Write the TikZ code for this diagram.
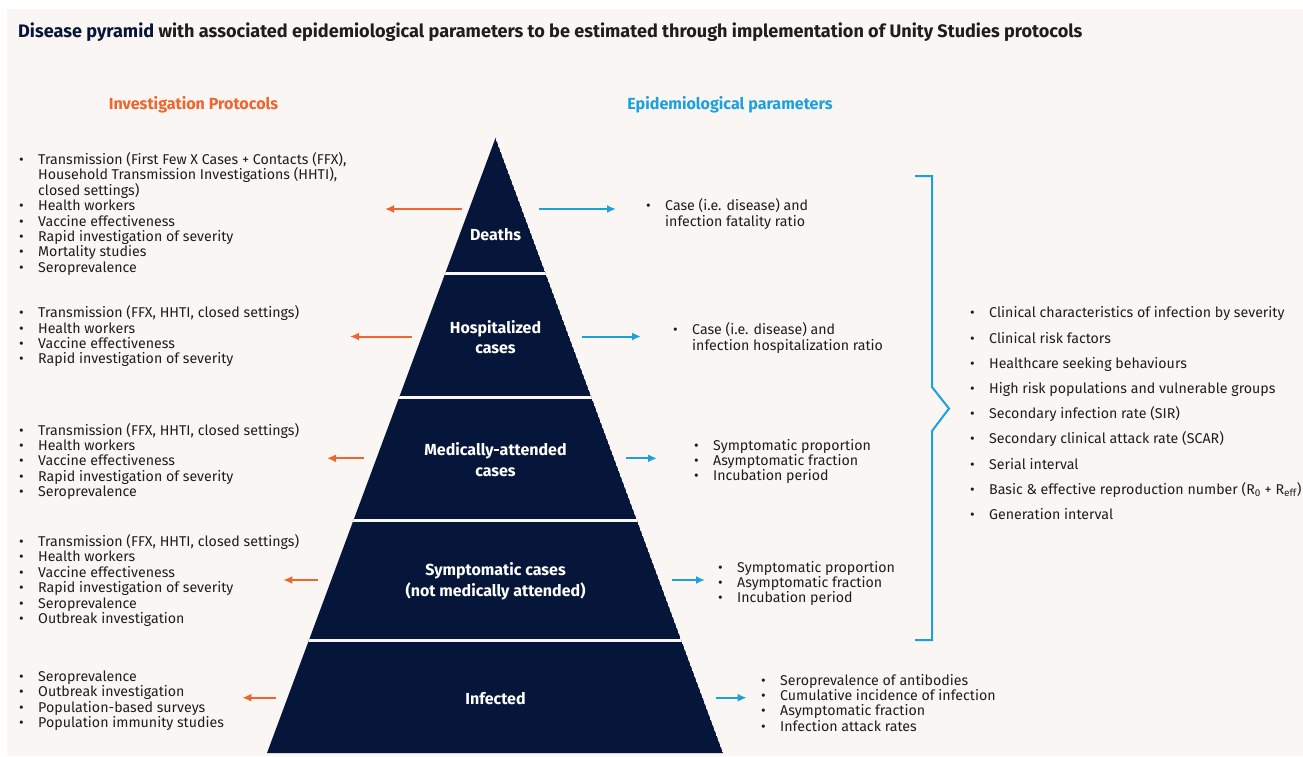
\documentclass[tikz,border=0pt]{standalone}
\usepackage{fontspec}
\setmainfont{Fira Sans}
\usepackage{tikz}
\usetikzlibrary{positioning,arrows.meta,calc}
\definecolor{navy}{RGB}{6,21,58}
\definecolor{ink}{RGB}{30,30,30}
\definecolor{protocol}{RGB}{240,100,45}
\definecolor{param}{RGB}{28,160,222}
\definecolor{paper}{RGB}{250,246,243}
\newcommand{\itm}{\makebox[19pt][l]{\textbullet}}
\newcommand{\cont}{\hspace*{19pt}}

\begin{document}
\begin{tikzpicture}[
    x=1pt, y=-1pt,
    level/.style={
        text=white, align=center,
        font=\fontsize{16}{20.5}\selectfont\bfseries
    },
    list/.style={
        anchor=west, inner sep=0pt, text=ink, align=left,
        font=\fontsize{14.2}{15.4}\selectfont
    },
    biglist/.style={list, font=\fontsize{14.2}{25.2}\selectfont},
    head/.style={font=\fontsize{16.1}{19}\selectfont\bfseries},
    oarr/.style={-{Latex[length=9pt,width=8pt]}, line width=2pt, protocol},
    barr/.style={-{Latex[length=9pt,width=8pt]}, line width=2pt, param},
]

% ── Page ──
\fill[white] (0,0) rectangle (1303,756);
\fill[paper] (7,9) rectangle (1303,756);
\useasboundingbox (0,0) rectangle (1303,756);

\node[anchor=base west, inner sep=0pt, text=ink,
      font=\fontsize{18.1}{21}\selectfont\bfseries] (title) at (18,37.5)
    {\textcolor{navy}{Disease pyramid} with associated epidemiological parameters to be estimated through implementation of Unity Studies protocols};

\node[head, text=protocol] (invhead) at (193.5,105) {Investigation Protocols};
\node[head, text=param]    (epihead) at (730,105)   {Epidemiological parameters};

% ── Pyramid ──
\coordinate (apex)  at (495.5,138);
\coordinate (baseL) at (267,753);
\coordinate (baseR) at (723,753);
\begin{scope}
    \clip (apex) -- (baseL) -- (baseR) -- cycle;
    \fill[navy] (apex) -- (baseL) -- (baseR) -- cycle;
    \foreach \y in {273,397,520,640}
        \draw[paper, line width=3pt] (250,\y) -- (740,\y);
\end{scope}

\node[level] (deaths) at (495.5,235)   {Deaths};
\node[level] (hosp)   at (495.5,337.3) {Hospitalized\\cases};
\node[level] (medic)  at (495.5,459.7) {Medically-attended\\cases};
\node[level] (sympt)  at (495.5,581.3) {Symptomatic cases\\(not medically attended)};
\node[level] (infec)  at (495.5,699)   {Infected};

% ── Arrows out of each level ──
\foreach \lvl/\y/\pa/\pb/\qa/\qb in {
        d/209/462/385/539/616,
        h/336.5/412/350/581.5/641,
        m/458.3/364/327/626/657,
        s/580/317.7/283.3/671.7/705,
        i/697.7/276/242.3/715.7/746.7} {
    \coordinate (\lvl-o1) at (\pa,\y);
    \coordinate (\lvl-o2) at (\pb,\y);
    \coordinate (\lvl-b1) at (\qa,\y);
    \coordinate (\lvl-b2) at (\qb,\y);
    \draw[oarr] (\lvl-o1) -- (\lvl-o2);
    \draw[barr] (\lvl-b1) -- (\lvl-b2);
}

% ── Protocols (left) ──
\node[list] (protD) at (19,214) {%
    \itm Transmission (First Few X Cases + Contacts (FFX),\\
    \cont Household Transmission Investigations (HHTI),\\
    \cont closed settings)\\
    \itm Health workers\\
    \itm Vaccine effectiveness\\
    \itm Rapid investigation of severity\\
    \itm Mortality studies\\
    \itm Seroprevalence};
\node[list] (protH) at (19,336.3) {%
    \itm Transmission (FFX, HHTI, closed settings)\\
    \itm Health workers\\
    \itm Vaccine effectiveness\\
    \itm Rapid investigation of severity};
\node[list] (protM) at (19,461.5) {%
    \itm Transmission (FFX, HHTI, closed settings)\\
    \itm Health workers\\
    \itm Vaccine effectiveness\\
    \itm Rapid investigation of severity\\
    \itm Seroprevalence};
\node[list] (protS) at (19,580.4) {%
    \itm Transmission (FFX, HHTI, closed settings)\\
    \itm Health workers\\
    \itm Vaccine effectiveness\\
    \itm Rapid investigation of severity\\
    \itm Seroprevalence\\
    \itm Outbreak investigation};
\node[list] (protI) at (19,700.8) {%
    \itm Seroprevalence\\
    \itm Outbreak investigation\\
    \itm Population-based surveys\\
    \itm Population immunity studies};

% ── Parameters (right) ──
\node[list] (parD) at (646,214.2) {%
    \itm Case (i.e. disease) and\\
    \cont infection fatality ratio};
\node[list] (parH) at (673,338) {%
    \itm Case (i.e. disease) and\\
    \cont infection hospitalization ratio};
\node[list] (parM) at (694,461.5) {%
    \itm Symptomatic proportion\\
    \itm Asymptomatic fraction\\
    \itm Incubation period};
\node[list] (parS) at (718,583.5) {%
    \itm Symptomatic proportion\\
    \itm Asymptomatic fraction\\
    \itm Incubation period};
\node[list] (parI) at (761,702.8) {%
    \itm Seroprevalence of antibodies\\
    \itm Cumulative incidence of infection\\
    \itm Asymptomatic fraction\\
    \itm Infection attack rates};

% ── Brace over the upper four levels ──
\draw[param, line width=2pt]
    (915,176) -- (932,176) -- (932,387) -- (949,408.5)
    -- (932,431) -- (932,640) -- (915,640);

\node[biglist] (parAll) at (970,413.2) {%
    \itm Clinical characteristics of infection by severity\\
    \itm Clinical risk factors\\
    \itm Healthcare seeking behaviours\\
    \itm High risk populations and vulnerable groups\\
    \itm Secondary infection rate (SIR)\\
    \itm Secondary clinical attack rate (SCAR)\\
    \itm Serial interval\\
    \itm Basic \& effective reproduction number (R\textsubscript{0} + R\textsubscript{eff})\\
    \itm Generation interval};

\end{tikzpicture}
\end{document}
